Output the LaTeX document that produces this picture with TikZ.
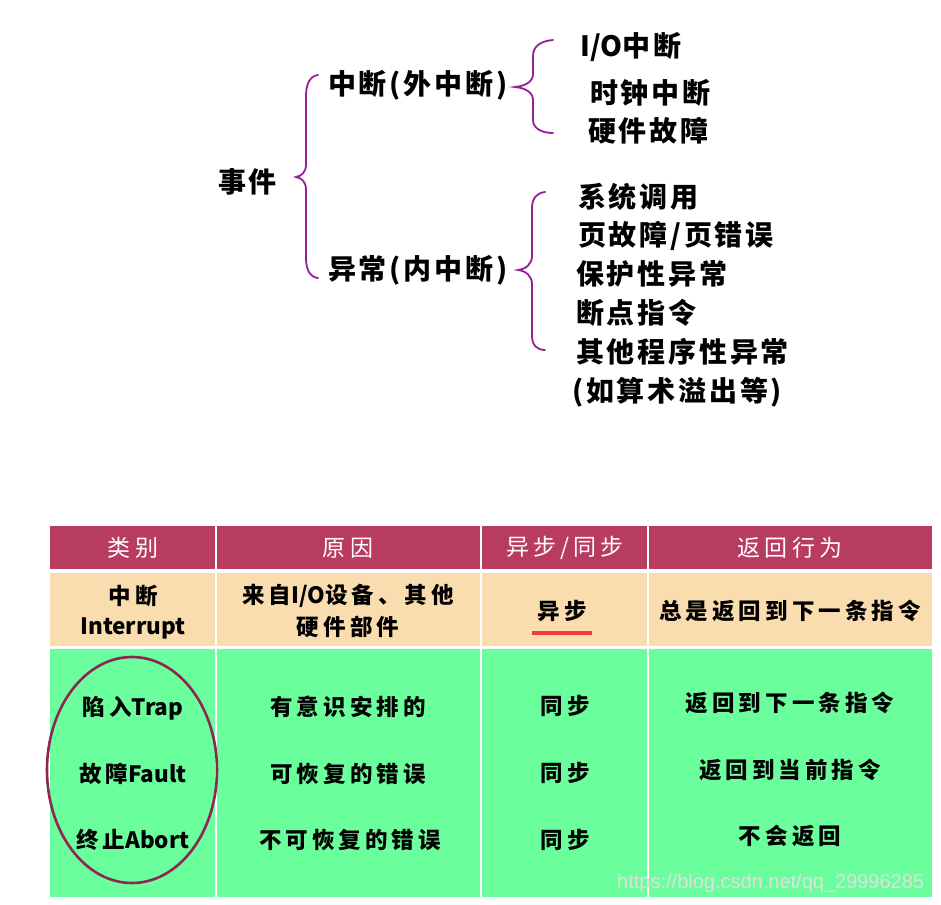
\documentclass[tikz,border=0pt]{standalone}
\usepackage{fontspec}
\setmainfont{Noto Sans CJK SC}
\newfontfamily\cjk[LetterSpace=10]{Noto Sans CJK SC}
\newfontfamily\cjkw[LetterSpace=18]{Noto Sans CJK SC}
\newfontfamily\lat{Noto Sans CJK SC}
\newfontfamily\wmfont{Liberation Sans}
\definecolor{bracecol}{RGB}{150,30,150}
\definecolor{headcol}{RGB}{184,59,98}
\definecolor{orangecol}{RGB}{250,221,174}
\definecolor{greencol}{RGB}{106,255,156}
\definecolor{ellcol}{RGB}{142,38,83}
\definecolor{ulcol}{RGB}{240,60,60}
\tikzset{
  treetxt/.style={font=\cjk\bfseries\fontsize{28}{31}\selectfont, inner sep=0pt, anchor=west},
  bracepath/.style={draw=bracecol, line width=1.8pt, line cap=round},
  celltxt/.style={font=\cjkw\bfseries\fontsize{22.5}{28}\selectfont, inner sep=0pt, align=center},
  headtxt/.style={font=\cjkw\fontsize{23}{28}\selectfont, inner sep=0pt, text=white},
  wmark/.style={font=\wmfont\fontsize{20}{22}\selectfont, inner sep=0pt, anchor=west}
}
\begin{document}
\begin{tikzpicture}[x=1pt,y=-1pt]
\useasboundingbox (0,0) rectangle (941,904);
\fill[white] (0,0) rectangle (941,904);
% tree
\node[treetxt] (ev) at (218,182) {事件};
\node[treetxt] (intr) at (328,85) {中断(外中断)};
\node[treetxt] (exc) at (328,270) {异常(内中断)};
\node[treetxt] (io) at (580,47) {{\lat\bfseries I/O}中断};
\node[treetxt] (clk) at (590,93) {时钟中断};
\node[treetxt] (hw) at (588,131) {硬件故障};
\node[treetxt] (sys) at (578,197) {系统调用};
\node[treetxt] (pf) at (578,236) {页故障/页错误};
\node[treetxt] (prot) at (576,274) {保护性异常};
\node[treetxt] (bp) at (576,313) {断点指令};
\node[treetxt] (oth) at (576,352) {其他程序性异常};
\node[treetxt] (oth2) at (572,392) {(如算术溢出等)};
% braces
\draw[bracepath] (318,75) .. controls (310,76) and (306,84) .. (306,96) -- (306,164)
  .. controls (306,172) and (302,176) .. (296,177)
  .. controls (302,178) and (306,182) .. (306,190) -- (306,258)
  .. controls (306,270) and (310,277) .. (318,278);
\draw[bracepath] (553,40) .. controls (541,41) and (533,46) .. (533,56) -- (533,74)
  .. controls (533,82) and (525,86) .. (515,87)
  .. controls (525,88) and (533,92) .. (533,100) -- (533,120)
  .. controls (533,128) and (541,133) .. (553,133);
\draw[bracepath] (545,192) .. controls (537,193) and (532,198) .. (532,208) -- (532,256)
  .. controls (532,264) and (526,269) .. (518,270)
  .. controls (526,271) and (532,276) .. (532,284) -- (532,336)
  .. controls (532,345) and (537,350) .. (545,350);
% table cells
\foreach \xa/\xb in {50/215,217/480,482/647,649/932}{
  \fill[headcol] (\xa,526) rectangle (\xb,569);
  \fill[orangecol] (\xa,573) rectangle (\xb,646);
  \fill[greencol] (\xa,649) rectangle (\xb,897);
}
% header
\node[headtxt] (h1) at (133,548) {类别};
\node[headtxt] (h2) at (348,548) {原因};
\node[headtxt] (h3) at (565,548) {异步/同步};
\node[headtxt] (h4) at (790,548) {返回行为};
% row interrupt
\node[celltxt] (r1a) at (133,596) {中断};
\node[celltxt] (r1b) at (133,628) {\lat\bfseries Interrupt};
\node[celltxt] (r1c) at (348,596) {来自{\lat\bfseries I/O}设备、其他};
\node[celltxt] (r1d) at (348,627) {硬件部件};
\node[celltxt] (r1e) at (562,611) {异步};
\node[celltxt] (r1f) at (790,611) {总是返回到下一条指令};
\fill[ulcol] (532,631) rectangle (592,635);
% rows exceptions
\node[celltxt] (t1) at (133,708) {陷入{\lat\bfseries Trap}};
\node[celltxt] (t2) at (133,774) {故障{\lat\bfseries Fault}};
\node[celltxt] (t3) at (133,840) {终止{\lat\bfseries Abort}};
\node[celltxt] (c1) at (348,707) {有意识安排的};
\node[celltxt] (c2) at (348,774) {可恢复的错误};
\node[celltxt] (c3) at (350,840) {不可恢复的错误};
\node[celltxt] (s1) at (565,706) {同步};
\node[celltxt] (s2) at (565,773) {同步};
\node[celltxt] (s3) at (565,840) {同步};
\node[celltxt] (b1) at (790,703) {返回到下一条指令};
\node[celltxt] (b2) at (790,770) {返回到当前指令};
\node[celltxt] (b3) at (790,836) {不会返回};
% ellipse
\draw[ellcol, line width=2.6pt] (132,770) ellipse [x radius=85, y radius=113];
% watermark bottom
\node[wmark, text=white!88!black] (wm2) at (617,883) {https://blog.csdn.net/qq\_29996285};
\end{tikzpicture}
\end{document}
